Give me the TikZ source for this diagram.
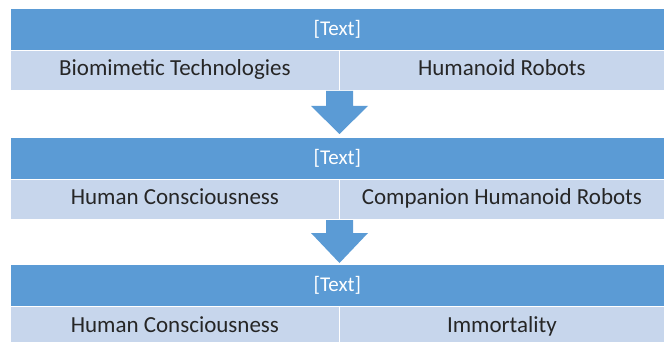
\documentclass[tikz,border=0pt]{standalone}
\usepackage{fontspec}
\setmainfont{Carlito}
\definecolor{hdr}{HTML}{5B9BD5}
\definecolor{subc}{HTML}{C7D6EC}
\begin{document}
\begin{tikzpicture}[x=1pt,y=-1pt,
  hdrbox/.style={fill=hdr,draw=white,line width=0.8pt,minimum width=654pt,minimum height=42pt,inner sep=0pt,anchor=north west,text=white,font=\fontsize{21}{24}\selectfont},
  leftcell/.style={fill=subc,draw=white,line width=0.8pt,minimum width=329pt,minimum height=40pt,inner sep=0pt,anchor=north west,text=black!85,text height=15pt,text depth=5pt,font=\fontsize{23}{26}\selectfont},
  rightcell/.style={leftcell,minimum width=325pt},
  flowarrow/.style={fill=hdr,draw=none}]
\useasboundingbox (0,0) rectangle (664,342);
\node[hdrbox] (h1) at (10,8) {[Text]};
\node[leftcell] (l1) at (10,50) {Biomimetic Technologies};
\node[rightcell] (r1) at (339,50) {Humanoid Robots};
\node[hdrbox] (h2) at (10,137) {[Text]};
\node[leftcell] (l2) at (10,179) {Human Consciousness};
\node[rightcell] (r2) at (339,179) {Companion Humanoid Robots};
\node[hdrbox] (h3) at (10,264) {[Text]};
\node[leftcell,minimum height=42pt] (l3) at (10,306) {Human Consciousness};
\node[rightcell,minimum height=42pt] (r3) at (339,306) {Immortality};
\fill[flowarrow] (326,91) -- (353,91) -- (353,106) -- (368,106) -- (339.5,134) -- (311,106) -- (326,106) -- cycle;
\fill[flowarrow] (326,220) -- (353,220) -- (353,233) -- (368,233) -- (339.5,263) -- (311,233) -- (326,233) -- cycle;
\end{tikzpicture}
\end{document}
